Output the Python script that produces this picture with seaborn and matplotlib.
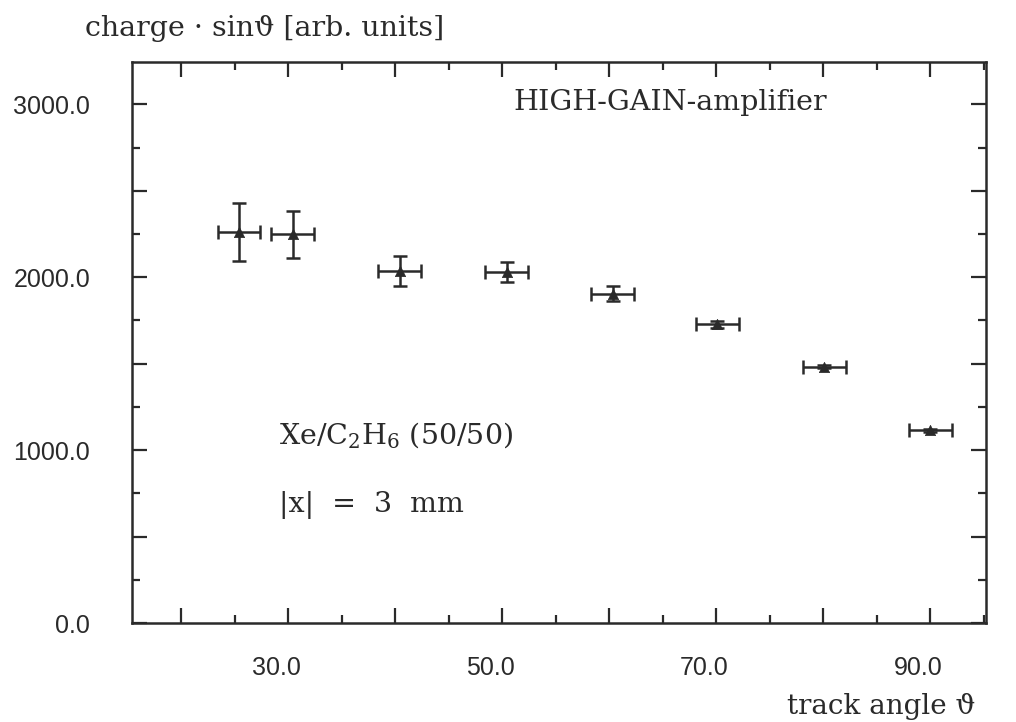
import matplotlib
matplotlib.use("Agg")
import matplotlib.pyplot as plt
import matplotlib.transforms as mtransforms
from matplotlib.ticker import MultipleLocator, FuncFormatter
import seaborn as sns
import pandas as pd

# ---- data ----
angle = [25.4, 30.4, 40.4, 50.4, 60.3, 70.1, 80.1, 90.0]
charge = [2262, 2249, 2037, 2031, 1906, 1729, 1483, 1114]
charge_err = [168, 135, 87, 60, 41, 20, 10, 8]
angle_err = [2, 2, 2, 2, 2, 2, 2, 2]
x_labels = [30, 50, 70, 90]
y_labels = [0, 1000, 2000, 3000]

df = pd.DataFrame({"angle": angle, "charge": charge,
                   "yerr": charge_err, "xerr": angle_err})

sns.set_theme(style="white")
plt.rcParams["font.family"] = ["Liberation Sans", "DejaVu Sans"]
plt.rcParams["mathtext.fontset"] = "dejavuserif"

fig = plt.figure(figsize=(10.16, 7.22), dpi=100)
fig.patch.set_facecolor("white")
ax = fig.add_axes([0.1299, 0.1371, 0.8406, 0.7770])
ax.set_facecolor("white")

ink = "#2a2a2a"
ax.errorbar(df["angle"], df["charge"], xerr=df["xerr"], yerr=df["yerr"],
            fmt="none", ecolor=ink, elinewidth=1.8, capsize=5, capthick=1.8, zorder=2)
sns.scatterplot(data=df, x="angle", y="charge", marker="^", s=55, color=ink,
                edgecolor=ink, linewidth=0.5, ax=ax, zorder=3, legend=False)

ax.set_xlim(15.4, 95.2)
ax.set_ylim(0, 3245)
ax.set_xlabel("")
ax.set_ylabel("")

ax.xaxis.set_major_locator(MultipleLocator(10))
ax.xaxis.set_minor_locator(MultipleLocator(5))
ax.yaxis.set_major_locator(MultipleLocator(500))
ax.yaxis.set_minor_locator(MultipleLocator(250))
ax.xaxis.set_major_formatter(FuncFormatter(
    lambda v, p: f"{v:.1f}" if any(abs(v - t) < 1e-6 for t in x_labels) else ""))
ax.yaxis.set_major_formatter(FuncFormatter(
    lambda v, p: f"{v:.1f}" if any(abs(v - t) < 1e-6 for t in y_labels) else ""))

ax.tick_params(which="both", direction="in", top=True, right=True, bottom=True,
               left=True, color=ink, width=1.6, labelcolor=ink, labelsize=18)
ax.tick_params(which="major", length=11)
ax.tick_params(which="minor", length=5.5)
ax.tick_params(axis="y", pad=30)
ax.tick_params(axis="x", pad=24)
for s in ax.spines.values():
    s.set_color(ink)
    s.set_linewidth(1.8)

# shift x tick labels slightly left, as in the reference
off = mtransforms.ScaledTranslation(-12 / 100, 0, fig.dpi_scale_trans)
for lab in ax.get_xticklabels():
    lab.set_transform(lab.get_transform() + off)

serif = ["DejaVu Serif"]
ax.text(0.446, 0.927, "HIGH-GAIN-amplifier", transform=ax.transAxes,
        ha="left", va="center", fontsize=20.5, family=serif, color=ink)
ax.text(0.172, 0.335, "Xe/C$_2$H$_6$ (50/50)", transform=ax.transAxes,
        ha="left", va="center", fontsize=20.5, family=serif, color=ink)
ax.text(0.172, 0.210, "|x|  =  3  mm", transform=ax.transAxes,
        ha="left", va="center", fontsize=20.5, family=serif, color=ink)

fig.text(85 / 1016, 1 - 28 / 722, "charge · sinϑ [arb. units]", ha="left",
         va="center", fontsize=20.5, family=serif, color=ink)
fig.text(975 / 1016, 1 - 707 / 722, "track angle ϑ", ha="right",
         va="center", fontsize=20, family=serif, color=ink)

fig.savefig("out.png", dpi=100, facecolor="white")
